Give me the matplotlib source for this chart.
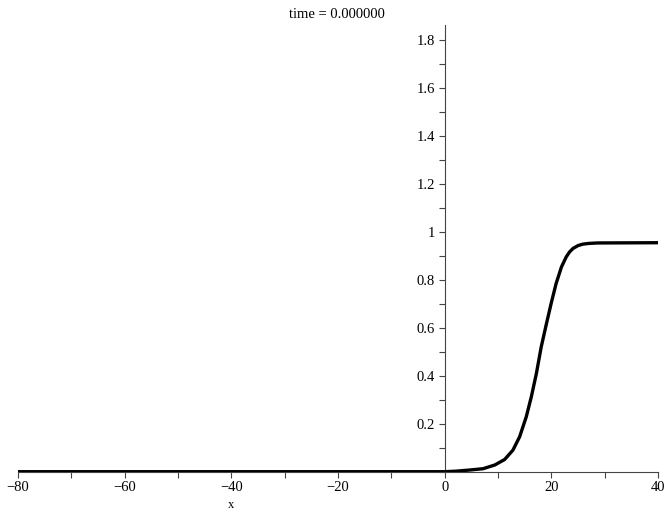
import matplotlib
matplotlib.use("Agg")
import matplotlib.pyplot as plt
from matplotlib.ticker import MultipleLocator

# values
x_vals = [-80, -40, 0, 2, 4.7, 7.2, 9.4, 11.25, 12.8, 14.06, 15.3, 16.25, 17.2,
          18.1, 19.06, 20.0, 20.9, 21.9, 22.8, 23.4, 24.06, 25.0, 25.9, 27.0,
          28.7, 40]
u_vals = [0.0, 0.0, 0.0, 0.002, 0.007, 0.0125, 0.028, 0.051, 0.09, 0.146, 0.229,
          0.3125, 0.41, 0.52, 0.615, 0.705, 0.785, 0.854, 0.896, 0.916, 0.931,
          0.943, 0.949, 0.952, 0.954, 0.955]

title_text = "time = 0.000000"
x_label = "x"

plt.rcParams['font.family'] = ['Liberation Serif', 'DejaVu Serif']
plt.rcParams['font.size'] = 10

fig = plt.figure(figsize=(6.72, 5.17), dpi=100)
ax = fig.add_axes([18/672, (517-471.7)/517, 640/672, (471.7-25)/517])

ax.plot(x_vals, u_vals, color='black', lw=2.4, solid_joinstyle='round',
        solid_capstyle='butt', zorder=3)

ax.set_xlim(-80, 40)
ax.set_ylim(0, 1.863)

for s in ('top', 'right'):
  ax.spines[s].set_visible(False)
ax.spines['left'].set_position(('data', 0))
ax.spines['bottom'].set_position(('data', 0))
ax.spines['left'].set_color('#444444')
ax.spines['bottom'].set_color('#444444')
ax.spines['left'].set_linewidth(0.8)
ax.spines['bottom'].set_linewidth(0.8)

ax.xaxis.set_minor_locator(MultipleLocator(10))
ax.yaxis.set_minor_locator(MultipleLocator(0.1))
ax.set_yticks([0.2, 0.4, 0.6, 0.8, 1.0, 1.2, 1.4, 1.6, 1.8])
ax.set_yticklabels(['0.2', '0.4', '0.6', '0.8', '1', '1.2', '1.4', '1.6', '1.8'])
ax.set_xticks([-80, -60, -40, -20, 0, 20, 40])
ax.set_xticklabels(['\u221280', '\u221260', '\u221240', '\u221220', '0', '20', '40'])

ax.tick_params(which='both', direction='out', color='#444444', width=0.8, labelsize=10.5)
ax.tick_params(which='major', length=4, pad=3)
ax.tick_params(which='minor', length=4)

ax.text(-40, -0.14, x_label, ha='center', va='center', fontsize=9)
fig.text(337/672, 1 - 14/517, title_text, ha='center', va='center', fontsize=10.5)

fig.savefig("out.png", dpi=100)
